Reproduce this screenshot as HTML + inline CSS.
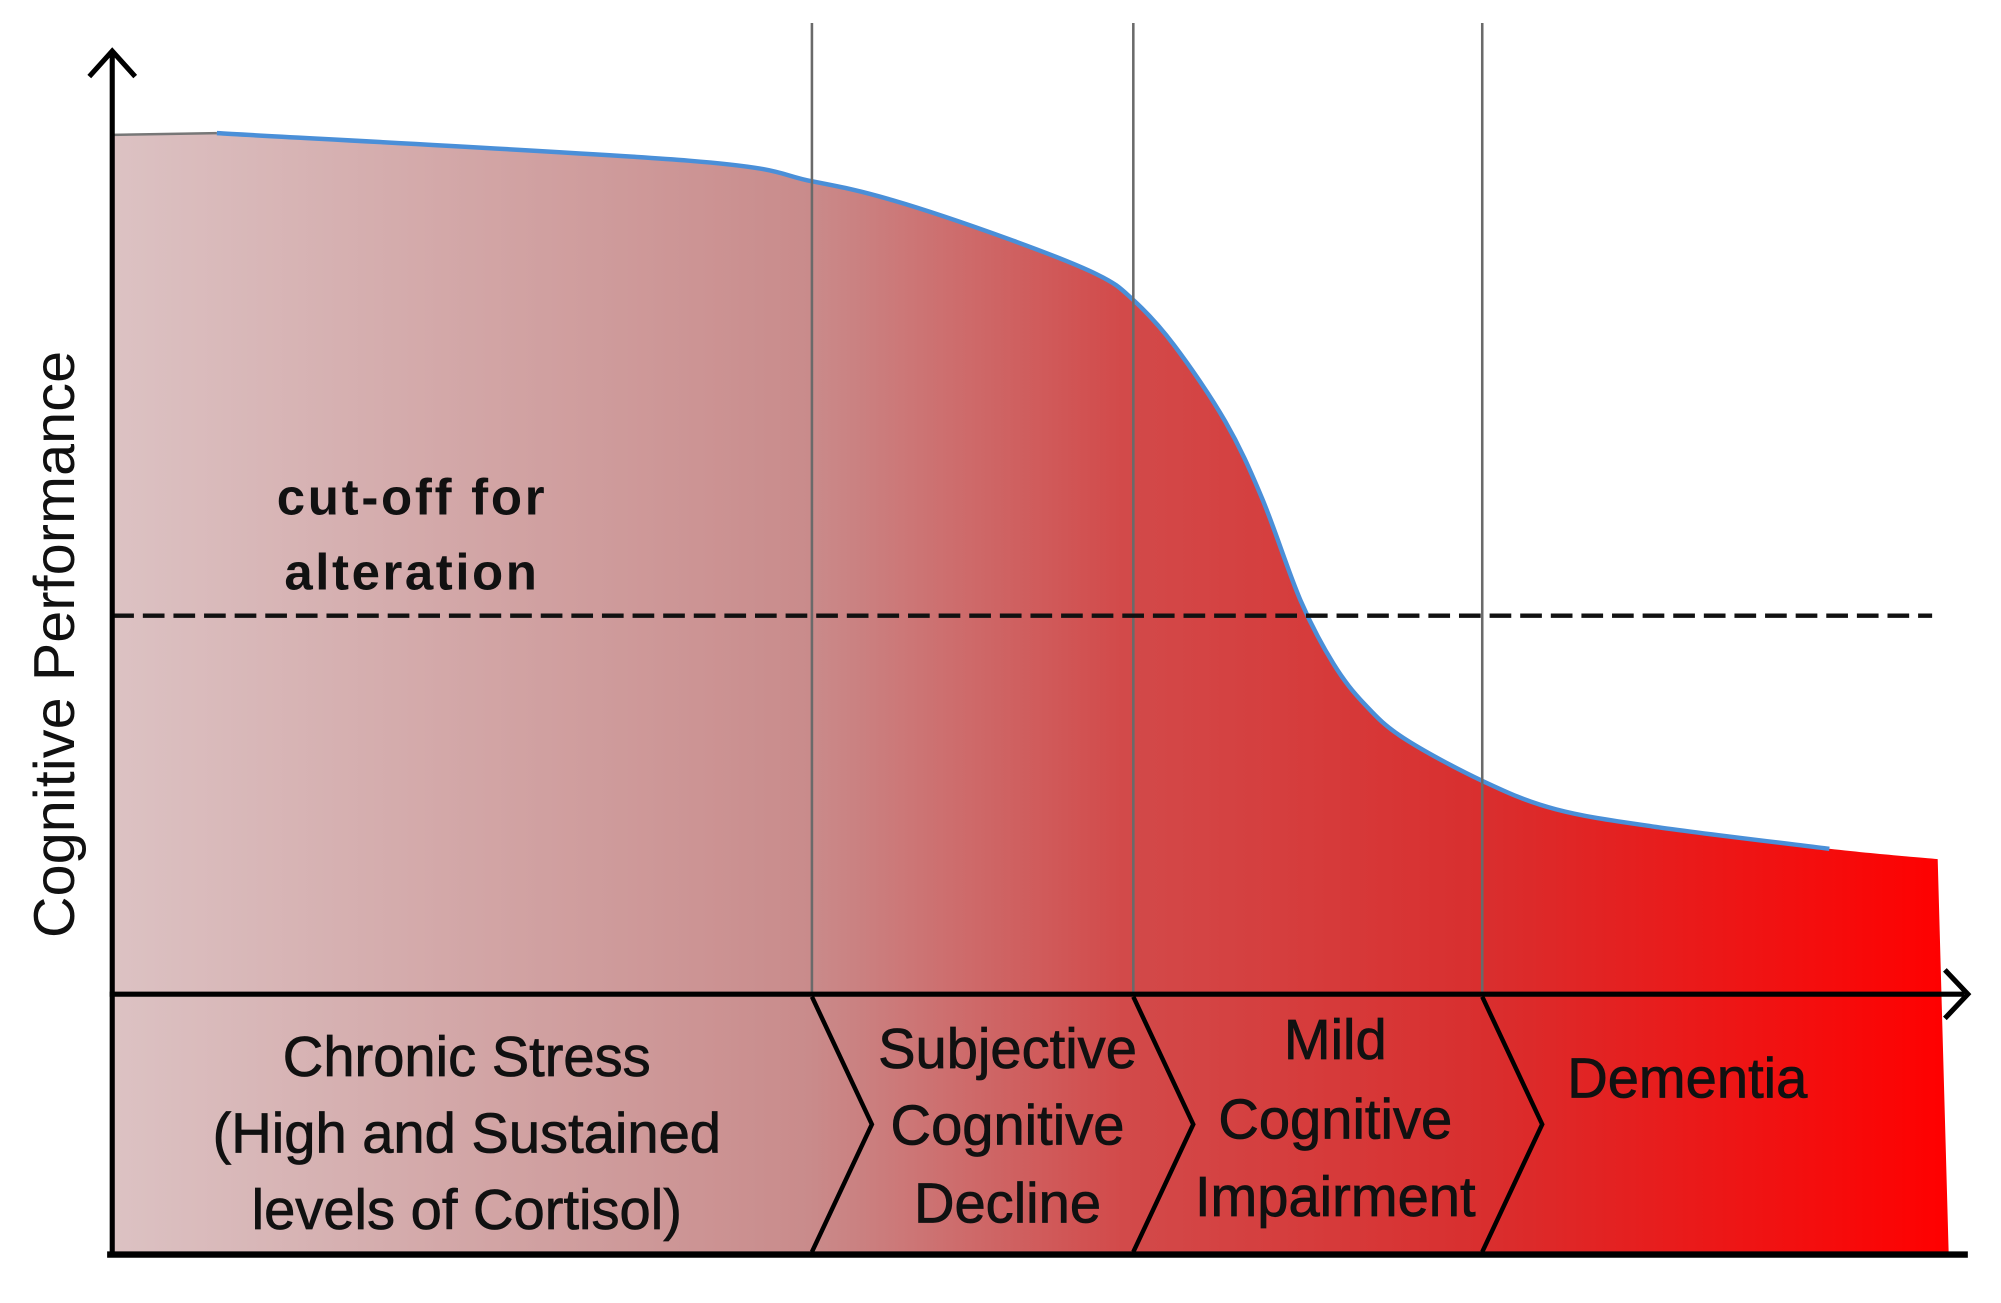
<!DOCTYPE html>
<html><head><meta charset="utf-8"><style>
html,body{margin:0;padding:0;background:#fff;}
svg{display:block;}
text{font-family:"Liberation Sans",sans-serif;fill:#111;}
</style></head><body>
<svg id="chart" width="2001" height="1303" viewBox="0 0 1569 1021" preserveAspectRatio="none" xmlns="http://www.w3.org/2000/svg">
<defs>
<linearGradient id="g" x1="88" y1="0" x2="1528" y2="0" gradientUnits="userSpaceOnUse">
<stop offset="0" stop-color="#dcc2c3"/>
<stop offset="0.38" stop-color="#c98b8b"/>
<stop offset="0.55" stop-color="#d24a4a"/>
<stop offset="0.75" stop-color="#d92e2e"/>
<stop offset="1" stop-color="#ff0000"/>
</linearGradient>
</defs>
<g id="plot"></g>
</svg>
<script>
const xVals=[0,5.7,31.4,38.1,42.5,48.8,53.6,55.6,57.8,60.6,62.6,64.7,66.5,68.2,70.3,74.6,78.6,84.2,93.5,99.4];
const yVals=[99.9,100.1,96.9,94.5,92.3,87.8,83.7,80.7,75.5,66.6,57.7,45.8,38.4,33.7,29.8,24.8,21.5,19.4,16.9,15.7];
const cutoff=[44];
const stageBounds=[0,38.1,55.6,74.6,100];
const stageLabels=[["Chronic Stress","(High and Sustained","levels of Cortisol)"],["Subjective","Cognitive","Decline"],["Mild","Cognitive","Impairment"],["Dementia"]];
const X0=88,X1=1528,Y0=779,Y1=105;
const sx=v=>X0+(X1-X0)*v/100;
const sy=v=>Y0-(Y0-Y1)*v/100;
const NS="http://www.w3.org/2000/svg";
const g=document.getElementById('plot');
function mk(tag,attrs){const e=document.createElementNS(NS,tag);for(const k in attrs)e.setAttribute(k,attrs[k]);g.appendChild(e);return e;}
function smooth(pts){
  let s=`M${pts[0][0]},${pts[0][1]}`;
  for(let i=0;i<pts.length-1;i++){
    const p0=pts[Math.max(0,i-1)],p1=pts[i],p2=pts[i+1],p3=pts[Math.min(pts.length-1,i+2)];
    const c1x=p1[0]+(p2[0]-p0[0])/6,c1y=p1[1]+(p2[1]-p0[1])/6;
    const c2x=p2[0]-(p3[0]-p1[0])/6,c2y=p2[1]-(p3[1]-p1[1])/6;
    s+=` C${c1x},${c1y} ${c2x},${c2y} ${p2[0]},${p2[1]}`;
  }
  return s;
}
const pts=xVals.map((x,i)=>[sx(x),sy(yVals[i])]);
// area fill
const d=`M${pts[0][0]},${pts[0][1]} L`+smooth(pts.slice(1)).slice(1)+` L${sx(100)},983 L${sx(0)},983 Z`;
const area=mk('path',{d:d,fill:'url(#g)'});


const edge=mk('line',{x1:pts[0][0],y1:pts[0][1],x2:pts[1][0],y2:pts[1][1],stroke:'#777','stroke-width':2});


const curve=mk('path',{d:smooth(pts.slice(1,pts.length-1)),fill:'none',stroke:'#4a8fd8','stroke-width':3.5,'stroke-linejoin':'round'});


for(let i=1;i<stageBounds.length-1;i++){
  const vl=mk('line',{x1:sx(stageBounds[i]),y1:18,x2:sx(stageBounds[i]),y2:779,stroke:'#6a6a6a','stroke-width':2});
  
  
}
const cl=mk('line',{x1:88,y1:sy(cutoff[0]),x2:1515,y2:sy(cutoff[0]),stroke:'#111','stroke-width':3.5,'stroke-dasharray':'17 7'});


const t1=mk('text',{x:322,y:403,'text-anchor':'middle','font-size':40,'font-weight':'bold',textLength:210});t1.textContent='cut-off for';


const t2=mk('text',{x:322,y:462,'text-anchor':'middle','font-size':40,'font-weight':'bold',textLength:198});t2.textContent='alteration';


const ya=mk('path',{d:'M88,983 L88,42 M70,60 L88,40 L106,60',fill:'none',stroke:'#000','stroke-width':4});


const xa=mk('path',{d:'M86,779 L1540,779 M1525,760 L1543,779 L1525,798',fill:'none',stroke:'#000','stroke-width':4});


const bl=mk('line',{x1:84,y1:983,x2:1543,y2:983,stroke:'#000','stroke-width':5});


for(let i=1;i<stageBounds.length-1;i++){
  const x=sx(stageBounds[i]);
  const ch=mk('path',{d:`M${x},781 L${x+47},881 L${x},981`,fill:'none',stroke:'#000','stroke-width':3.5});
  
  
}
const lineYs=[[843,903,963],[837,897,958],[830,892,953],[860]];
const centers=[366,790,1047,1323];
stageLabels.forEach((lines,i)=>{
  lines.forEach((s,j)=>{
    const t=mk('text',{x:centers[i],y:lineYs[i][j],'text-anchor':'middle','font-size':44,'stroke':'#111','stroke-width':0.6});
    t.textContent=s;
    
    
  });
});
const yl=mk('text',{x:0,y:0,'text-anchor':'middle','font-size':45,transform:'translate(58,505) rotate(-90)',textLength:460});
yl.textContent='Cognitive Performance';


</script>
</body></html>
